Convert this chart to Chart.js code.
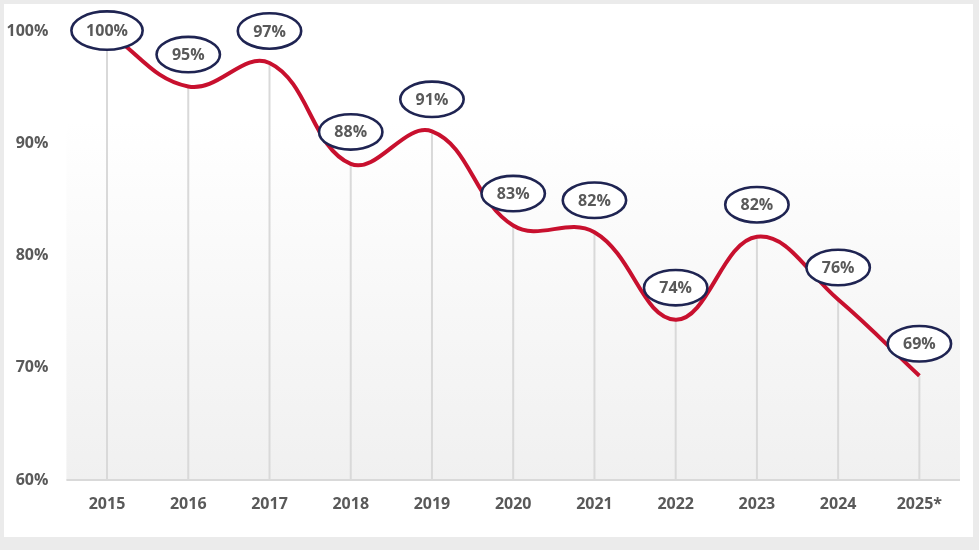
<!DOCTYPE html>
<html><head><meta charset="utf-8">
<script src="https://cdn.jsdelivr.net/npm/chart.js@4"></script>
<style>
html,body{margin:0;padding:0;background:#ebebeb;width:979px;height:550px;overflow:hidden}
#card{position:absolute;left:4px;top:4px;width:969px;height:533px;background:#fff}
canvas{display:block}
</style></head><body>
<div id="card"><canvas id="c" width="969" height="533"></canvas></div>
<script>
const categories = ['2015','2016','2017','2018','2019','2020','2021','2022','2023','2024','2025*'];
const shareValues = [100, 95.1, 97.2, 88.2, 91.1, 82.7, 82.1, 74.3, 81.7, 76.1, 69.3];
const valueLabels = ['100%','95%','97%','88%','91%','83%','82%','74%','82%','76%','69%'];
const yTicks = [60, 70, 80, 90, 100];

const FONT = '"Open Sans", "Noto Sans", sans-serif';

const bgPlugin = {
  id: 'bg',
  beforeDraw(chart) {
    const {ctx, chartArea: a} = chart;
    const g = ctx.createLinearGradient(0, a.top, 0, a.bottom);
    g.addColorStop(0, '#ffffff');
    g.addColorStop(0.2, '#ffffff');
    g.addColorStop(1, '#f0f0f0');
    ctx.save();
    ctx.fillStyle = g;
    ctx.fillRect(a.left, a.top, a.right - a.left, a.bottom - a.top);
    ctx.restore();
  },
  beforeDatasetsDraw(chart) {
    const {ctx, chartArea: a} = chart;
    const meta = chart.getDatasetMeta(0);
    ctx.save();
    ctx.strokeStyle = '#d9d9d9';
    ctx.lineWidth = 2;
    meta.data.forEach(p => {
      ctx.beginPath();
      ctx.moveTo(p.x, p.y);
      ctx.lineTo(p.x, a.bottom);
      ctx.stroke();
    });
    ctx.beginPath();
    ctx.moveTo(a.left, a.bottom);
    ctx.lineTo(a.right, a.bottom);
    ctx.stroke();
    ctx.restore();
  },
  afterDatasetsDraw(chart) {
    const {ctx, chartArea: a} = chart;
    const meta = chart.getDatasetMeta(0);
    ctx.save();
    ctx.font = 'bold 16px ' + FONT;
    meta.data.forEach((p, i) => {
      const tw = ctx.measureText(valueLabels[i]).width;
      const rx = Math.max(33, (tw + 32) / 2);
      const ry = rx > 35 ? 20.5 : 19;
      let cy = p.y - 32;
      if (cy < a.top - 1) cy = a.top - 1;
      const cx = p.x;
      ctx.beginPath();
      ctx.ellipse(cx, cy, rx - 1.3, ry - 1.3, 0, 0, Math.PI * 2);
      ctx.fillStyle = '#ffffff';
      ctx.fill();
      ctx.lineWidth = 2.6;
      ctx.strokeStyle = '#1f2452';
      ctx.stroke();
      ctx.fillStyle = '#595959';
      ctx.textAlign = 'center';
      ctx.textBaseline = 'middle';
      ctx.fillText(valueLabels[i], cx, cy + 1);
    });
    ctx.restore();
  }
};

new Chart(document.getElementById('c'), {
  type: 'line',
  data: {
    labels: categories,
    datasets: [{
      data: shareValues,
      borderColor: '#c8102e',
      borderWidth: 4,
      tension: 0.4,
      pointRadius: 0,
      fill: false,
      clip: false
    }]
  },
  options: {
    responsive: false,
    animation: false,
    layout: {padding: {left: 0, right: 13, top: 23, bottom: 0}},
    plugins: {legend: {display: false}, tooltip: {enabled: false}},
    scales: {
      x: {
        offset: true,
        grid: {display: false, drawTicks: false},
        border: {display: false},
        ticks: {color: '#595959', font: {family: FONT, size: 16, weight: 'bold'}, padding: 15, maxRotation: 0},
        afterFit(s) { s.height = 57; }
      },
      y: {
        min: 60, max: 100,
        afterBuildTicks(s) { s.ticks = yTicks.map(v => ({value: v})); },
        grid: {display: false, drawTicks: false},
        border: {display: false},
        ticks: {color: '#595959', font: {family: FONT, size: 16, weight: 'bold'}, padding: 18, callback: v => v + '%'},
        afterFit(s) { s.width = 62.4; }
      }
    }
  },
  plugins: [bgPlugin]
});
</script>
</body></html>
